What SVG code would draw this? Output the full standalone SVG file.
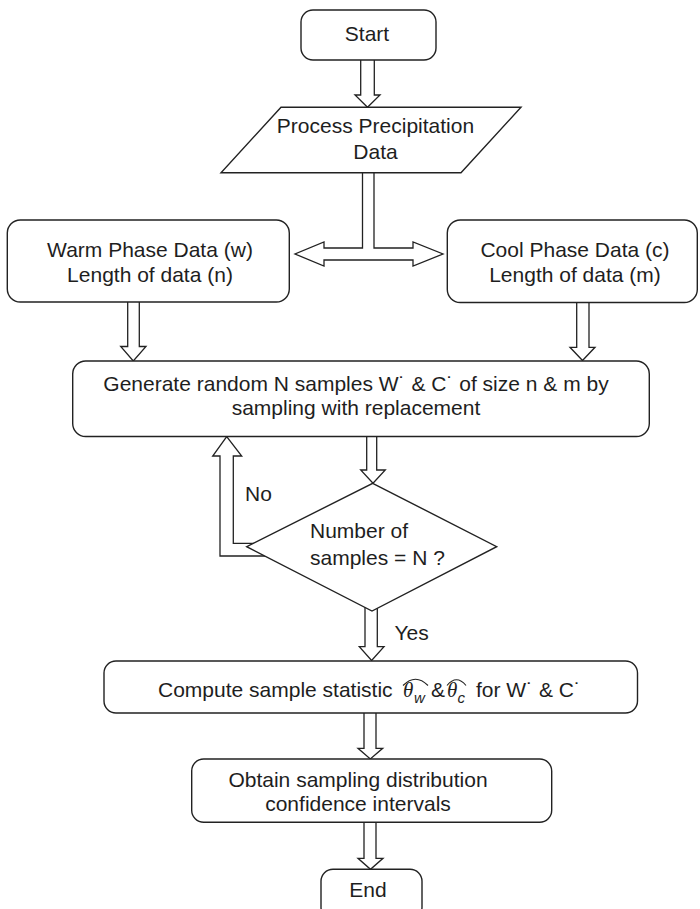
<svg xmlns="http://www.w3.org/2000/svg" width="700" height="909" viewBox="0 0 700 909">
<style>
.box{fill:#fff;stroke:#222;stroke-width:1.4}
.arr{fill:#fff;stroke:#222;stroke-width:1.3;stroke-linejoin:miter}
.t{font-family:"Liberation Sans",Arial,sans-serif;font-size:21px;fill:#1e1e1e}
.m{text-anchor:middle}
.th{font-family:"Liberation Serif","Times New Roman",serif;font-style:italic}
.sub{font-family:"Liberation Sans",Arial,sans-serif;font-style:italic;font-size:15px}
.hat{fill:none;stroke:#222;stroke-width:1.1}
</style>
<rect width="700" height="909" fill="#fff"/>
<g id="connectors">
<path class="arr" d="M360.7,58 V95 H355 L367.5,107.3 L380,95 H374.3 V58"/>
<path class="arr" d="M362.5,165 V248 H324 V242 L295,254 L324,266 V260 H413 V266 L443,254 L413,242 V248 H374 V165"/>
<path class="arr" d="M127.7,300 V346.5 H120.7 L133.3,361 L146,346.5 H139.3 V300"/>
<path class="arr" d="M576.7,300 V347.3 H570 L582.5,360.5 L595,347.3 H589 V300"/>
<path class="arr" d="M366.7,434 V470 H360.7 L373,483.3 L385.3,470 H376.7 V434"/>
<path class="arr" d="M272,543.3 H233.3 V456 H241.7 L226.7,436.7 L212.7,456 H220 V556 H278"/>
<path class="arr" d="M365,605 V646.7 H359.3 L371.6,660.5 L384,646.7 H377.3 V605"/>
<path class="arr" d="M364,711 V748.3 H358 L370.3,759 L382.7,748.3 H376 V711"/>
<path class="arr" d="M364,820 V858.3 H358 L370.5,869.3 L383,858.3 H376 V820"/>
</g>
<g id="start">
<rect class="box" x="301" y="10" width="135" height="50" rx="12"/>
<text class="t m" x="367" y="41">Start</text>
</g>
<g id="process">
<polygon class="box" points="281,107.3 521,107.3 461,172.7 221,172.7"/>
<text class="t m" x="375.5" y="133">Process Precipitation</text>
<text class="t m" x="375.5" y="159.3">Data</text>
</g>
<g id="warm">
<rect class="box" x="7.3" y="220" width="282" height="82" rx="13"/>
<text class="t m" x="150" y="257">Warm Phase Data (w)</text>
<text class="t m" x="150" y="282">Length of data (n)</text>
</g>
<g id="cool">
<rect class="box" x="447.3" y="220" width="250" height="82.5" rx="13"/>
<text class="t m" x="575" y="257">Cool Phase Data (c)</text>
<text class="t m" x="575" y="282">Length of data (m)</text>
</g>
<g id="generate">
<rect class="box" x="72.7" y="361" width="576.6" height="75.5" rx="13"/>
<text class="t m" x="356" y="391">Generate random N samples W˙ &amp; C˙ of size n &amp; m by</text>
<text class="t m" x="356" y="415">sampling with replacement</text>
</g>
<g id="decision">
<polygon class="box" points="372.7,483.3 496.7,546.7 372,611 246.7,546.7"/>
<text class="t" x="310" y="538">Number of</text>
<text class="t" x="310" y="565">samples = N ?</text>
</g>
<g id="labels">
<text class="t" x="245" y="501">No</text>
<text class="t" x="394.5" y="640">Yes</text>
</g>
<g id="compute">
<rect class="box" x="104" y="661" width="533.5" height="52" rx="12"/>
<text class="t" x="158" y="697">Compute sample statistic <tspan x="403" class="th">θ</tspan><tspan x="414" y="703" class="sub">w</tspan><tspan x="431" y="697">&amp;</tspan><tspan x="447" class="th">θ</tspan><tspan x="457.5" y="703" class="sub">c</tspan><tspan x="476" y="697">for W˙ &amp; C˙</tspan></text>
<path class="hat" d="M403,685.5 Q415.5,673 428,685.5"/>
<path class="hat" d="M447,685.5 Q456.5,674 466,685.5"/>
</g>
<g id="obtain">
<rect class="box" x="191.7" y="759" width="360" height="63.3" rx="12"/>
<text class="t m" x="358" y="787">Obtain sampling distribution</text>
<text class="t m" x="358" y="811">confidence intervals</text>
</g>
<g id="end">
<rect class="box" x="321" y="869.3" width="101" height="50" rx="12"/>
<text class="t m" x="368" y="897">End</text>
</g>
</svg>
